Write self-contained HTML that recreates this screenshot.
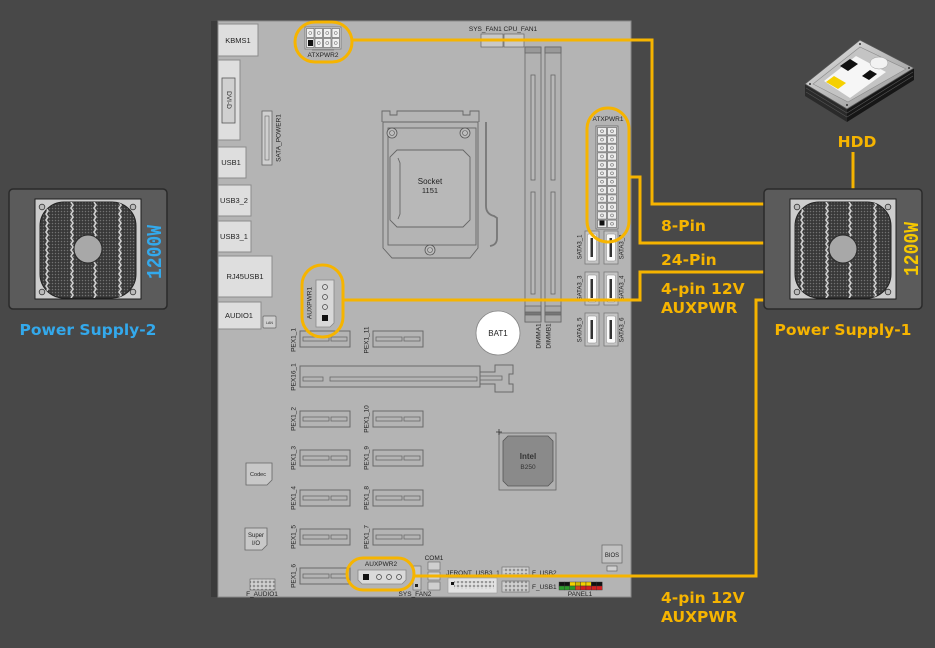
<!DOCTYPE html>
<html><head><meta charset="utf-8">
<style>
html,body{margin:0;padding:0;background:#484848;width:935px;height:648px;overflow:hidden;}
svg{display:block;}
.t{font-family:"Liberation Sans",sans-serif;font-size:6.5px;fill:#222;}
.io{font-family:"Liberation Sans",sans-serif;font-size:7.5px;fill:#222;}
.o{font-family:"DejaVu Sans","Liberation Sans",sans-serif;font-weight:bold;font-size:15.5px;fill:#f6b400;}
.b{font-family:"DejaVu Sans","Liberation Sans",sans-serif;font-weight:bold;font-size:15.5px;fill:#33a9ec;}
</style></head><body>
<svg width="935" height="648" viewBox="0 0 935 648" xmlns="http://www.w3.org/2000/svg">
<defs>
  <pattern id="mesh" width="3" height="3" patternUnits="userSpaceOnUse">
    <rect width="3" height="3" fill="#383838"/>
    <circle cx="1.5" cy="1.5" r="0.75" fill="#727272"/>
  </pattern>
  <pattern id="pin24" x="597" y="127" width="10" height="8.42" patternUnits="userSpaceOnUse">
    <rect x="0.5" y="0.5" width="9" height="7.4" fill="#ececec" stroke="#555" stroke-width="0.6"/>
    <circle cx="5" cy="4.2" r="1.4" fill="none" stroke="#555" stroke-width="0.5"/>
  </pattern>
  <pattern id="pin8" x="306" y="28" width="8.5" height="10" patternUnits="userSpaceOnUse">
    <rect x="0.5" y="0.5" width="7.5" height="9" fill="#f0f0f0" stroke="#555" stroke-width="0.6"/>
    <circle cx="4.25" cy="5" r="1.5" fill="none" stroke="#555" stroke-width="0.5"/>
  </pattern>
  <pattern id="dots" width="4" height="4" patternUnits="userSpaceOnUse">
    <circle cx="2" cy="2" r="1" fill="none" stroke="#555" stroke-width="0.5"/>
  </pattern>
  <path id="wv" d="M0,0 l2,3 -2,3 2,3 -2,3 2,3 -2,3 2,3 -2,3 2,3 -2,3 2,3 -2,3 2,3 -2,3 2,3 -2,3 2,3 -2,3 2,3 -2,3 2,3 -2,3 2,3 -2,3 2,3 -2,3 2,3 -2,3 2,3 -2,3 2,3 -2,3" fill="none" stroke="#cfcfcf" stroke-width="1.6"/>
  <clipPath id="gclip"><rect x="31" y="13" width="96" height="96" rx="24"/></clipPath>
  <g id="psu">
    <rect x="0" y="0" width="158" height="120" rx="4" fill="#5b5b5b" stroke="#2a2a2a" stroke-width="1.5"/>
    <rect x="26" y="10" width="106" height="100" fill="#cdcdcd" stroke="#1e1e1e" stroke-width="1"/>
    <rect x="31" y="13" width="96" height="96" rx="24" fill="url(#mesh)" stroke="#222" stroke-width="1"/>
    <g clip-path="url(#gclip)">
      <use href="#wv" x="37" y="13"/>
      <use href="#wv" x="62" y="13"/>
      <use href="#wv" x="85" y="13"/>
      <use href="#wv" x="110" y="13"/>
    </g>
    <circle cx="79" cy="60" r="14" fill="#a8a8a8" stroke="#2a2a2a" stroke-width="1"/>
    <circle cx="33" cy="18" r="2.8" fill="#bbb" stroke="#333" stroke-width="0.8"/>
    <circle cx="124" cy="18" r="2.8" fill="#bbb" stroke="#333" stroke-width="0.8"/>
    <circle cx="33" cy="103" r="2.8" fill="#bbb" stroke="#333" stroke-width="0.8"/>
    <circle cx="124" cy="103" r="2.8" fill="#bbb" stroke="#333" stroke-width="0.8"/>
  </g>
  <g id="pex">
    <rect x="0" y="0" width="50" height="16" fill="none" stroke="#6a6a6a" stroke-width="1"/>
    <rect x="3" y="6" width="26" height="4" fill="none" stroke="#6a6a6a" stroke-width="0.8"/>
    <rect x="31" y="6" width="16" height="4" fill="none" stroke="#6a6a6a" stroke-width="0.8"/>
  </g>
  <g id="sata">
    <rect x="0" y="0" width="14" height="33" fill="#c4c4c4" stroke="#7a7a7a" stroke-width="0.8"/>
    <rect x="2.5" y="3" width="9" height="27" rx="1.5" fill="#fafafa" stroke="#888" stroke-width="0.5"/>
    <rect x="5.5" y="7" width="2.5" height="19" fill="#333"/>
  </g>
  <linearGradient id="hddg" x1="0" y1="0" x2="1" y2="1">
    <stop offset="0" stop-color="#e6e6e6"/>
    <stop offset="1" stop-color="#8e8e8e"/>
  </linearGradient>
</defs>

<!-- background -->
<rect x="0" y="0" width="935" height="648" fill="#484848"/>

<!-- ===== Motherboard ===== -->
<rect x="211" y="21" width="7" height="576" fill="#3b3b3b"/>
<rect x="218" y="21" width="413" height="576" fill="#b4b4b4" stroke="#8a8a8a" stroke-width="1"/>

<!-- IO blocks -->
<rect x="218" y="24" width="40" height="32" fill="#dedede" stroke="#8c8c8c"/>
<text class="io" x="238" y="43" text-anchor="middle">KBMS1</text>
<rect x="218" y="60" width="22" height="80" fill="#dedede" stroke="#8c8c8c"/>
<rect x="222" y="78" width="13" height="45" fill="#d0d0d0" stroke="#555" stroke-width="0.8"/>
<text class="t" transform="translate(228.5,100) rotate(90)" text-anchor="middle" dominant-baseline="central">DVI-D</text>
<rect x="218" y="147" width="28" height="31" fill="#dedede" stroke="#8c8c8c"/>
<text class="io" x="231" y="165" text-anchor="middle">USB1</text>
<rect x="218" y="185" width="33" height="31" fill="#dedede" stroke="#8c8c8c"/>
<text class="io" x="234" y="203" text-anchor="middle">USB3_2</text>
<rect x="218" y="221" width="33" height="31" fill="#dedede" stroke="#8c8c8c"/>
<text class="io" x="234" y="239" text-anchor="middle">USB3_1</text>
<rect x="218" y="256" width="54" height="41" fill="#dedede" stroke="#8c8c8c"/>
<text class="io" x="245" y="279" text-anchor="middle">RJ45USB1</text>
<rect x="218" y="302" width="43" height="27" fill="#dedede" stroke="#8c8c8c"/>
<text class="io" x="239" y="318" text-anchor="middle">AUDIO1</text>
<rect x="263" y="316" width="13" height="12" rx="1" fill="#cfcfcf" stroke="#666" stroke-width="0.7"/>
<text class="t" x="269.5" y="324" text-anchor="middle" style="font-size:3.5px">LAN</text>

<!-- SATA_POWER1 -->
<rect x="262" y="111" width="10" height="54" fill="#cfcfcf" stroke="#666" stroke-width="0.8"/>
<rect x="265" y="116" width="4" height="44" fill="none" stroke="#666" stroke-width="0.6"/>
<text class="t" transform="translate(279,138) rotate(-90)" text-anchor="middle" dominant-baseline="central">SATA_POWER1</text>

<!-- ATXPWR2 -->
<rect x="305" y="27" width="36" height="22" fill="#e0e0e0" stroke="#777" stroke-width="0.8"/>
<rect x="306" y="28" width="34" height="20" fill="url(#pin8)"/>
<rect x="308" y="40" width="5" height="6" fill="#111"/>
<rect x="312" y="49" width="22" height="1.5" fill="#888"/>
<text class="t" x="323" y="57" text-anchor="middle">ATXPWR2</text>

<!-- Fans -->
<text class="t" x="503" y="31" text-anchor="middle">SYS_FAN1 CPU_FAN1</text>
<rect x="481" y="34" width="22" height="13" fill="#c8c8c8" stroke="#666" stroke-width="0.7"/>
<rect x="504" y="34" width="20" height="13" fill="#c8c8c8" stroke="#666" stroke-width="0.7"/>

<!-- Socket -->
<g fill="none" stroke="#666" stroke-width="0.9">
  <path d="M382,122 L382,111 L390,111 L390,115 L397,115 L397,111 L463,111 L463,115 L470,115 L470,111 L479,111 L479,122"/>
  <path d="M383,122 L478,122 L478,248 L470,258 L392,258 L383,248 Z"/>
  <rect x="388" y="128" width="88" height="117"/>
  <path d="M486,122 L486,206 Q486,214 494,216 L497,218 L497,238 Q497,245 490,246" stroke-width="1.8" stroke="#777"/>
  <path d="M397,150 L463,150 L470,157 L470,220 L463,227 L397,227 L390,220 L390,157 Z" fill="#b8b8b8"/>
  <path d="M398,158 L400,163 L400,214 L398,219" />
</g>
<g fill="#bdbdbd" stroke="#555" stroke-width="0.8">
  <circle cx="392" cy="133" r="5"/><circle cx="465" cy="133" r="5"/><circle cx="430" cy="250" r="5"/>
</g>
<g fill="none" stroke="#555" stroke-width="0.6">
  <circle cx="392" cy="133" r="2.5"/><circle cx="465" cy="133" r="2.5"/><circle cx="430" cy="250" r="2.5"/>
</g>
<text class="t" x="430" y="184" text-anchor="middle" style="font-size:8px">Socket</text>
<text class="t" x="430" y="193" text-anchor="middle" style="font-size:7.5px">1151</text>

<!-- DIMMs -->
<g stroke="#666" stroke-width="0.8">
  <rect x="525" y="47" width="16" height="275" fill="#b2b2b2"/>
  <rect x="525" y="47" width="16" height="6" fill="#999"/>
  <rect x="531" y="75" width="4" height="105" fill="#b8b8b8"/>
  <rect x="531" y="192" width="4" height="102" fill="#b8b8b8"/>
  <rect x="525" y="306" width="16" height="16" fill="#a8a8a8"/>
  <rect x="525" y="312" width="16" height="3" fill="#777"/>
  <rect x="545" y="47" width="16" height="275" fill="#b2b2b2"/>
  <rect x="545" y="47" width="16" height="6" fill="#999"/>
  <rect x="551" y="75" width="4" height="105" fill="#b8b8b8"/>
  <rect x="551" y="192" width="4" height="102" fill="#b8b8b8"/>
  <rect x="545" y="306" width="16" height="16" fill="#a8a8a8"/>
  <rect x="545" y="312" width="16" height="3" fill="#777"/>
</g>
<text class="t" transform="translate(539,336) rotate(-90)" text-anchor="middle" dominant-baseline="central">DIMMA1</text>
<text class="t" transform="translate(549,336) rotate(-90)" text-anchor="middle" dominant-baseline="central">DIMMB1</text>

<!-- ATXPWR1 -->
<text class="t" x="608" y="121" text-anchor="middle">ATXPWR1</text>
<rect x="596" y="126" width="22" height="103" fill="#d8d8d8" stroke="#666" stroke-width="0.8"/>
<rect x="597" y="127" width="20" height="101" fill="url(#pin24)"/>
<rect x="599.5" y="220.5" width="5" height="5" fill="#111"/>

<!-- SATA -->
<use href="#sata" x="585" y="231"/>
<use href="#sata" x="604" y="231"/>
<use href="#sata" x="585" y="272"/>
<use href="#sata" x="604" y="272"/>
<use href="#sata" x="585" y="313"/>
<use href="#sata" x="604" y="313"/>
<g style="font-size:6px">
<text class="t" transform="translate(580.5,247) rotate(-90)" text-anchor="middle" dominant-baseline="central" style="font-size:6px">SATA3_1</text>
<text class="t" transform="translate(622.5,247) rotate(-90)" text-anchor="middle" dominant-baseline="central" style="font-size:6px">SATA3_2</text>
<text class="t" transform="translate(580.5,288) rotate(-90)" text-anchor="middle" dominant-baseline="central" style="font-size:6px">SATA3_3</text>
<text class="t" transform="translate(622.5,288) rotate(-90)" text-anchor="middle" dominant-baseline="central" style="font-size:6px">SATA3_4</text>
<text class="t" transform="translate(580.5,330) rotate(-90)" text-anchor="middle" dominant-baseline="central" style="font-size:6px">SATA3_5</text>
<text class="t" transform="translate(622.5,330) rotate(-90)" text-anchor="middle" dominant-baseline="central" style="font-size:6px">SATA3_6</text>
</g>

<!-- BAT1 -->
<circle cx="498" cy="333" r="22" fill="#ffffff" stroke="#888" stroke-width="0.8"/>
<text class="t" x="498" y="336" text-anchor="middle" style="font-size:8px">BAT1</text>

<!-- AUXPWR1 -->
<path d="M316,280 L334,280 L334,323 L330,327 L316,327 Z" fill="#d8d8d8" stroke="#888" stroke-width="0.8"/>
<g fill="none" stroke="#444" stroke-width="0.7">
  <circle cx="325" cy="287" r="2.5"/><circle cx="325" cy="297" r="2.5"/><circle cx="325" cy="307" r="2.5"/>
</g>
<rect x="322" y="315" width="6" height="6" fill="#111"/>
<text class="t" transform="translate(310,303) rotate(-90)" text-anchor="middle" dominant-baseline="central">AUXPWR1</text>

<!-- PCIe -->
<use href="#pex" x="300" y="331"/>
<use href="#pex" x="373" y="331"/>
<use href="#pex" x="300" y="411"/>
<use href="#pex" x="373" y="411"/>
<use href="#pex" x="300" y="450"/>
<use href="#pex" x="373" y="450"/>
<use href="#pex" x="300" y="490"/>
<use href="#pex" x="373" y="490"/>
<use href="#pex" x="300" y="529"/>
<use href="#pex" x="373" y="529"/>
<use href="#pex" x="300" y="568"/>
<g fill="none" stroke="#6a6a6a" stroke-width="1">
  <rect x="300" y="366" width="180" height="21"/>
  <rect x="303" y="377" width="20" height="4" stroke-width="0.8"/>
  <rect x="330" y="377" width="147" height="4" stroke-width="0.8"/>
  <path d="M480,372 L495,372 L495,365 L513,365 L513,374 L509,374 L509,384 L513,384 L513,392 L495,392 L495,384 L480,384"/>
  <rect x="480" y="376" width="22" height="4" stroke-width="0.8"/>
</g>
<text class="t" transform="translate(294,340) rotate(-90)" text-anchor="middle" dominant-baseline="central">PEX1_1</text>
<text class="t" transform="translate(367,340) rotate(-90)" text-anchor="middle" dominant-baseline="central">PEX1_11</text>
<text class="t" transform="translate(294,377) rotate(-90)" text-anchor="middle" dominant-baseline="central">PEX16_1</text>
<text class="t" transform="translate(294,419) rotate(-90)" text-anchor="middle" dominant-baseline="central">PEX1_2</text>
<text class="t" transform="translate(367,419) rotate(-90)" text-anchor="middle" dominant-baseline="central">PEX1_10</text>
<text class="t" transform="translate(294,458) rotate(-90)" text-anchor="middle" dominant-baseline="central">PEX1_3</text>
<text class="t" transform="translate(367,458) rotate(-90)" text-anchor="middle" dominant-baseline="central">PEX1_9</text>
<text class="t" transform="translate(294,498) rotate(-90)" text-anchor="middle" dominant-baseline="central">PEX1_4</text>
<text class="t" transform="translate(367,498) rotate(-90)" text-anchor="middle" dominant-baseline="central">PEX1_8</text>
<text class="t" transform="translate(294,537) rotate(-90)" text-anchor="middle" dominant-baseline="central">PEX1_5</text>
<text class="t" transform="translate(367,537) rotate(-90)" text-anchor="middle" dominant-baseline="central">PEX1_7</text>
<text class="t" transform="translate(294,576) rotate(-90)" text-anchor="middle" dominant-baseline="central">PEX1_6</text>

<!-- Intel chipset -->
<rect x="499" y="433" width="57" height="57" fill="#b0b0b0" stroke="#666" stroke-width="0.8"/>
<path d="M508,436 L548,436 L553,441 L553,481 L548,486 L508,486 L503,481 L503,441 Z" fill="#8a8a8a" stroke="#555" stroke-width="0.8"/>
<path d="M496,432 L502,432 M499,429 L499,435" stroke="#333" stroke-width="0.8"/>
<text class="t" x="528" y="459" text-anchor="middle" style="font-size:8px;font-weight:bold;fill:#333">Intel</text>
<text class="t" x="528" y="469" text-anchor="middle" style="font-size:6.5px;fill:#333">B250</text>

<!-- Codec / Super IO -->
<path d="M246,463 L272,463 L272,480 L267,485 L246,485 Z" fill="#c8c8c8" stroke="#666" stroke-width="0.8"/>
<text class="t" x="258" y="476" text-anchor="middle" style="font-size:5.5px">Codec</text>
<path d="M245,528 L267,528 L267,545 L262,550 L245,550 Z" fill="#c8c8c8" stroke="#666" stroke-width="0.8"/>
<text class="t" x="256" y="537" text-anchor="middle" style="font-size:6px">Super</text>
<text class="t" x="256" y="545" text-anchor="middle" style="font-size:6px">I/O</text>

<!-- F_AUDIO1 -->
<rect x="250" y="579" width="25" height="11" fill="#d0d0d0" stroke="#666" stroke-width="0.6"/>
<rect x="250" y="579" width="25" height="11" fill="url(#dots)"/>
<text class="t" x="262" y="596" text-anchor="middle">F_AUDIO1</text>

<!-- AUXPWR2 -->
<text class="t" x="381" y="566" text-anchor="middle">AUXPWR2</text>
<path d="M358,570 L406,570 L406,580 L402,584 L362,584 L358,580 Z" fill="#dadada" stroke="#888" stroke-width="0.8"/>
<rect x="363" y="574" width="6" height="6" fill="#111"/>
<g fill="none" stroke="#444" stroke-width="0.7">
  <circle cx="379" cy="577" r="2.5"/><circle cx="389" cy="577" r="2.5"/><circle cx="399" cy="577" r="2.5"/>
</g>

<!-- SYS_FAN2, COM1 -->
<rect x="413" y="566" width="8" height="24" fill="#c8c8c8" stroke="#666" stroke-width="0.6"/>
<rect x="415" y="584" width="3" height="3" fill="#222"/>
<text class="t" x="415" y="596" text-anchor="middle">SYS_FAN2</text>
<text class="t" x="434" y="560" text-anchor="middle">COM1</text>
<rect x="428" y="562" width="12" height="8" fill="#cfcfcf" stroke="#666" stroke-width="0.6"/>
<rect x="428" y="572" width="12" height="8" fill="#cfcfcf" stroke="#666" stroke-width="0.6"/>
<rect x="428" y="582" width="12" height="8" fill="#cfcfcf" stroke="#666" stroke-width="0.6"/>

<!-- JFRONT_USB3_1 -->
<text class="t" x="473" y="575" text-anchor="middle">JFRONT_USB3_1</text>
<rect x="448" y="578" width="49" height="15" fill="#e2e2e2" stroke="#999" stroke-width="0.6"/>
<rect x="454" y="581" width="40" height="8" fill="url(#dots)"/>
<rect x="451" y="582" width="3" height="3" fill="#111"/>

<!-- F_USB -->
<rect x="502" y="567" width="27" height="9" fill="#d0d0d0" stroke="#666" stroke-width="0.6"/>
<rect x="503" y="567" width="25" height="9" fill="url(#dots)"/>
<text class="t" x="532" y="575">F_USB2</text>
<rect x="502" y="581" width="27" height="11" fill="#d0d0d0" stroke="#666" stroke-width="0.6"/>
<rect x="503" y="581" width="25" height="11" fill="url(#dots)"/>
<text class="t" x="532" y="589">F_USB1</text>

<!-- PANEL1 -->
<g stroke="#333" stroke-width="0.4">
  <rect x="559" y="582" width="5.4" height="4" fill="#111"/>
  <rect x="564.4" y="582" width="5.4" height="4" fill="#111"/>
  <rect x="569.8" y="582" width="5.4" height="4" fill="#f2d200"/>
  <rect x="575.2" y="582" width="5.4" height="4" fill="#d4b800"/>
  <rect x="580.6" y="582" width="5.4" height="4" fill="#f2d200"/>
  <rect x="586" y="582" width="5.4" height="4" fill="#f2d200"/>
  <rect x="591.4" y="582" width="5.4" height="4" fill="#111"/>
  <rect x="596.8" y="582" width="5.4" height="4" fill="#111"/>
  <rect x="559" y="586" width="5.4" height="4" fill="#2a9a2a"/>
  <rect x="564.4" y="586" width="5.4" height="4" fill="#2a9a2a"/>
  <rect x="569.8" y="586" width="5.4" height="4" fill="#2a9a2a"/>
  <rect x="575.2" y="586" width="5.4" height="4" fill="#d44020"/>
  <rect x="580.6" y="586" width="5.4" height="4" fill="#d42020"/>
  <rect x="586" y="586" width="5.4" height="4" fill="#d42020"/>
  <rect x="591.4" y="586" width="5.4" height="4" fill="#d42020"/>
  <rect x="596.8" y="586" width="5.4" height="4" fill="#d42020"/>
</g>
<text class="t" x="580" y="596" text-anchor="middle">PANEL1</text>

<!-- BIOS -->
<rect x="602" y="545" width="20" height="18" fill="#c2c2c2" stroke="#666" stroke-width="0.7"/>
<text class="t" x="612" y="557" text-anchor="middle" style="font-size:6px">BIOS</text>
<rect x="607" y="566" width="10" height="5" fill="#d0d0d0" stroke="#555" stroke-width="0.6"/>

<!-- ===== Orange ovals ===== -->
<g fill="none" stroke="#f6b400" stroke-width="3">
  <rect x="295" y="22" width="57" height="40" rx="20"/>
  <rect x="587" y="108" width="42" height="134" rx="21"/>
  <rect x="302" y="265" width="41" height="72" rx="20"/>
  <rect x="347" y="558" width="67" height="32" rx="16"/>
</g>

<!-- ===== Orange connectors ===== -->
<g fill="none" stroke="#f6b400" stroke-width="3" stroke-linejoin="miter">
  <polyline points="352,40 652,40 652,204 764,204"/>
  <polyline points="629,177 640,177 640,243 764,243"/>
  <polyline points="343,300 640,300 640,272 764,272"/>
  <polyline points="414,576 756,576 756,300 764,300"/>
  <line x1="853" y1="152" x2="853" y2="189"/>
</g>

<!-- ===== Power supplies ===== -->
<use href="#psu" x="764" y="189"/>
<text transform="translate(912,249) rotate(-90) scale(1,1.2)" text-anchor="middle" dominant-baseline="central" style="font-family:'Liberation Mono','DejaVu Sans Mono',monospace;font-weight:bold;font-size:18px;fill:#f6c800">1200W</text>
<use href="#psu" x="9" y="189"/>
<text transform="translate(155,252) rotate(-90) scale(1,1.2)" text-anchor="middle" dominant-baseline="central" style="font-family:'Liberation Mono','DejaVu Sans Mono',monospace;font-weight:bold;font-size:18px;fill:#33a9ec">1200W</text>

<!-- ===== HDD ===== -->
<g>
  <polygon points="805,84 847,109 847,122 805,96" fill="#2a2a2a"/>
  <polygon points="847,109 914,68 914,80 847,122" fill="#161616"/>
  <path d="M806,88 L847,113 L913,72 M806,92 L847,117 L913,76" fill="none" stroke="#555" stroke-width="0.6"/>
  <polygon points="805,84 860,40 914,68 847,109" fill="url(#hddg)" stroke="#555" stroke-width="0.8"/>
  <polygon points="813,84 860,47 906,69 848,102" fill="#c4c4c4" stroke="#8a8a8a" stroke-width="0.6"/>
  <polygon points="824,81 856,56 886,72 850,98" fill="#f6f6f6"/>
  <polygon points="840,66 850,59 858,64 848,71" fill="#111"/>
  <polygon points="862,76 870,70 877,74 869,80" fill="#111"/>
  <polygon points="826,82 834,76 846,83 838,89" fill="#f5d000"/>
  <ellipse cx="879" cy="63" rx="9" ry="6" fill="#f2f2f2" stroke="#999" stroke-width="0.5"/>
  <circle cx="810" cy="84" r="1" fill="#333"/>
  <circle cx="860" cy="44" r="1" fill="#333"/>
  <circle cx="909" cy="68" r="1" fill="#333"/>
  <circle cx="847" cy="105" r="1" fill="#333"/>
</g>

<!-- ===== Labels ===== -->
<text class="o" x="857" y="147" text-anchor="middle">HDD</text>
<text class="o" x="661" y="231">8-Pin</text>
<text class="o" x="661" y="265">24-Pin</text>
<text class="o" x="661" y="294">4-pin 12V</text>
<text class="o" x="661" y="313">AUXPWR</text>
<text class="o" x="843" y="335" text-anchor="middle">Power Supply-1</text>
<text class="b" x="88" y="335" text-anchor="middle">Power Supply-2</text>
<text class="o" x="661" y="603">4-pin 12V</text>
<text class="o" x="661" y="622">AUXPWR</text>
</svg>
</body></html>
